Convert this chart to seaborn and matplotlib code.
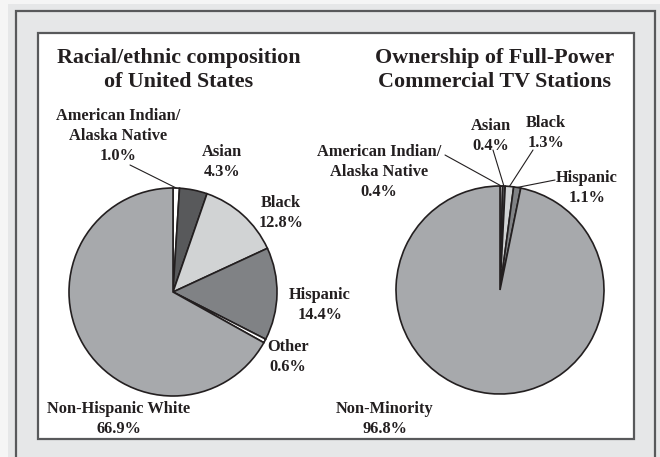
import matplotlib
matplotlib.use("Agg")
import matplotlib.pyplot as plt
import seaborn as sns
import numpy as np
from matplotlib.patches import Rectangle

# ---------------- data ----------------
us_groups = ["American Indian/\nAlaska Native", "Asian", "Black", "Hispanic", "Other", "Non-Hispanic White"]
us_values = [1.0, 4.3, 12.8, 14.4, 0.6, 66.9]
tv_groups = ["American Indian/\nAlaska Native", "Asian", "Black", "Hispanic", "Non-Minority"]
tv_values = [0.4, 0.4, 1.3, 1.1, 96.8]
titles = ["Racial/ethnic composition\nof United States",
          "Ownership of Full-Power\nCommercial TV Stations"]

# ---------------- style ----------------
sns.set_theme(style="white")
plt.rcParams['font.family'] = ['Liberation Serif', 'DejaVu Serif']

group_colors = {
    "American Indian/\nAlaska Native": "#ffffff",
    "Asian": "#58595b",
    "Black": "#d1d3d4",
    "Hispanic": "#808285",
    "Other": "#ffffff",
    "Non-Hispanic White": "#a7a9ac",
    "Non-Minority": "#a7a9ac",
}

W, H = 660, 457
fig = plt.figure(figsize=(W / 100, H / 100), dpi=100)
fig.patch.set_facecolor('#e6e7e8')
ax = fig.add_axes([0, 0, 1, 1])


def Y(y):
    return H - y


# outer light margin and frame
ax.add_patch(Rectangle((0, 0), 8, H, facecolor='#f5f5f5', edgecolor='none', zorder=0))
ax.add_patch(Rectangle((0, Y(4)), W, 4, facecolor='#f5f5f5', edgecolor='none', zorder=0))
ax.add_patch(Rectangle((16, Y(475)), 639, 464, facecolor='none', edgecolor='#58595b', lw=1.6, zorder=1))
# inner white panel
ax.add_patch(Rectangle((38, Y(439)), 596, 406, facecolor='white', edgecolor='#58595b', lw=1.6, zorder=1))

wedge_kw = dict(edgecolor='#231f20', linewidth=1.2)
lab_kw = dict(ha='center', va='center', fontsize=11.8, fontweight='bold', color='#231f20',
              linespacing=1.32, zorder=5)

panels = [
    dict(groups=us_groups, values=us_values, center=(173, 292), radius=104, title_xy=(179, 70),
         label_xy=[(118, 136), (222, 162), (281, 213), (320, 305), (288, 357), (119, 419)],
         leaders={0: (130, 165)}),
    dict(groups=tv_groups, values=tv_values, center=(500, 290), radius=104, title_xy=(495, 70),
         label_xy=[(379, 172), (491, 136), (546, 133), (587, 188), (385, 419)],
         leaders={0: (445, 155), 1: (493, 150), 2: (533, 150), 3: (555, 180)}),
]

for i, p in enumerate(panels):
    cx, cy = p['center']
    r = p['radius']
    cols = [group_colors[g] for g in p['groups']]
    wedges, _ = ax.pie(p['values'], colors=cols, startangle=90, counterclock=False,
                       center=(cx, Y(cy)), radius=r, wedgeprops=wedge_kw)
    for w in wedges:
        w.set_zorder(3)
    for j, (g, v) in enumerate(zip(p['groups'], p['values'])):
        lx, ly = p['label_xy'][j]
        ax.text(lx, Y(ly), f"{g}\n{v:.1f}%", **lab_kw)
        if j in p['leaders']:
            w = wedges[j]
            ang = np.deg2rad((w.theta1 + w.theta2) / 2)
            ex = cx + r * np.cos(ang)
            ey = Y(cy) + r * np.sin(ang)
            sx, sy = p['leaders'][j]
            ax.plot([sx, ex], [Y(sy), ey], color='#231f20', lw=0.8, zorder=4)
    tx, ty = titles[i], p['title_xy']
    ax.text(ty[0], Y(ty[1]), tx, ha='center', va='center', fontsize=15.8, fontweight='bold',
            color='#231f20', linespacing=1.32, zorder=5)

ax.set_xlim(0, W)
ax.set_ylim(0, H)
ax.set_aspect('auto')
ax.axis('off')

fig.savefig('out.png', dpi=100, facecolor=fig.get_facecolor())
